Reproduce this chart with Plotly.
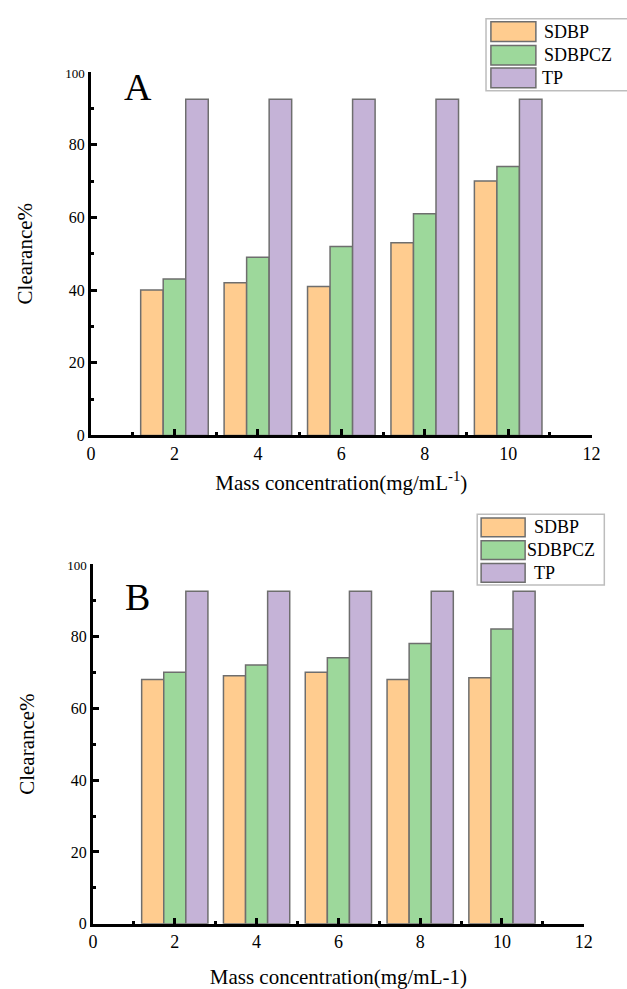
import plotly.graph_objects as go

# Mass concentration (mg/mL) and clearance (%) for each sample
concentration = [2, 4, 6, 8, 10]
series_names = ["SDBP", "SDBPCZ", "TP"]
fill_colors = ["#FFCC8F", "#9DD89B", "#C5B3D7"]

clearance_a_sdbp = [40, 42, 41, 53, 70]
clearance_a_sdbpcz = [43, 49, 52, 61, 74]
clearance_a_tp = [92.5, 92.5, 92.5, 92.5, 92.5]

clearance_b_sdbp = [68, 69, 70, 68, 68.5]
clearance_b_sdbpcz = [70, 72, 74, 78, 82]
clearance_b_tp = [92.5, 92.5, 92.5, 92.5, 92.5]

x_tick_vals = [0, 2, 4, 6, 8, 10, 12]
y_tick_vals = [0, 20, 40, 60, 80, 100]

W, H = 627, 989
FONT = "Liberation Serif"


def px(x):
    return x / W


def py(y):
    return 1 - y / H


fig = go.Figure()

panels = [
    ("x", "y", [clearance_a_sdbp, clearance_a_sdbpcz, clearance_a_tp]),
    ("x2", "y2", [clearance_b_sdbp, clearance_b_sdbpcz, clearance_b_tp]),
]
for xa, ya, values in panels:
    for name, color, vals in zip(series_names, fill_colors, values):
        fig.add_trace(go.Bar(
            x=concentration, y=vals, name=name, xaxis=xa, yaxis=ya,
            marker=dict(color=color, line=dict(color="#6e6e6e", width=1.5)),
            showlegend=False,
        ))

y_tick_text = [str(v) for v in y_tick_vals[:-1]] + [
    "<span style='font-size:13px'>100</span>"]

axis_common = dict(
    showline=True, linecolor="black", linewidth=3, mirror=False,
    ticks="inside", tickcolor="black", tickwidth=3, ticklen=6,
    showgrid=False, zeroline=False,
)


def xaxis_cfg(domain, anchor, title_text, standoff):
    return dict(
        axis_common, domain=domain, anchor=anchor, range=[0, 12],
        tickvals=x_tick_vals,
        tickfont=dict(family=FONT, size=18, color="black"),
        minor=dict(ticks="inside", ticklen=3, tickwidth=3, dtick=1,
                   tickcolor="black", showgrid=False),
        title=dict(text=title_text, standoff=standoff,
                   font=dict(family=FONT, size=21, color="black")),
    )


def yaxis_cfg(domain, anchor):
    return dict(
        axis_common, domain=domain, anchor=anchor, range=[0, 100],
        tickvals=y_tick_vals, ticktext=y_tick_text,
        tickfont=dict(family=FONT, size=16, color="black"),
        minor=dict(ticks="inside", ticklen=3, tickwidth=3, dtick=10,
                   tickcolor="black", showgrid=False),
        title=dict(text="Clearance%", standoff=27,
                   font=dict(family=FONT, size=21, color="black")),
    )


fig.update_layout(
    width=W, height=H,
    margin=dict(l=0, r=0, t=0, b=0),
    paper_bgcolor="white", plot_bgcolor="white",
    barmode="group", bargap=0.19, bargroupgap=0,
    font=dict(family=FONT, color="black"),
    xaxis=xaxis_cfg([px(88), px(600)], "y",
                    "Mass concentration(mg/mL<sup>-1</sup>)", 13),
    yaxis=yaxis_cfg([py(436), py(67)], "x"),
    xaxis2=xaxis_cfg([px(90), px(592)], "y2",
                     "Mass concentration(mg/mL-1)", 21),
    yaxis2=yaxis_cfg([py(932), py(567)], "x2"),
)

# Panel letters
fig.add_annotation(x=1.12, y=96, xref="x", yref="y", text="A", showarrow=False,
                   font=dict(family=FONT, size=38, color="black"))
fig.add_annotation(x=1.08, y=91, xref="x2", yref="y2", text="B", showarrow=False,
                   font=dict(family=FONT, size=38, color="black"))

# Boxed legends with wide swatches
legend_specs = [
    dict(box=(492, 13, 640, 86), sw_x=(497, 543),
         rows=[(16, 36), (40, 60), (63, 83)], text_x=[549, 549, 547]),
    dict(box=(483, 516, 613, 588), sw_x=(487, 532),
         rows=[(520, 539), (543, 562), (566, 585)], text_x=[539, 532, 539]),
]
for spec in legend_specs:
    x0, y0, x1, y1 = spec["box"]
    fig.add_shape(type="rect", xref="paper", yref="paper",
                  x0=px(x0), x1=px(x1), y0=py(y1), y1=py(y0),
                  line=dict(color="#bdbdbd", width=1.5), fillcolor="white")
    for name, color, (ry0, ry1), tx in zip(series_names, fill_colors,
                                            spec["rows"], spec["text_x"]):
        fig.add_shape(type="rect", xref="paper", yref="paper",
                      x0=px(spec["sw_x"][0]), x1=px(spec["sw_x"][1]),
                      y0=py(ry1), y1=py(ry0),
                      line=dict(color="#6e6e6e", width=1.5), fillcolor=color)
        fig.add_annotation(x=px(tx), y=py((ry0 + ry1) / 2), xref="paper",
                           yref="paper", text=name, showarrow=False,
                           xanchor="left", yanchor="middle",
                           font=dict(family=FONT, size=18, color="black"))

fig.write_html("out.html")
